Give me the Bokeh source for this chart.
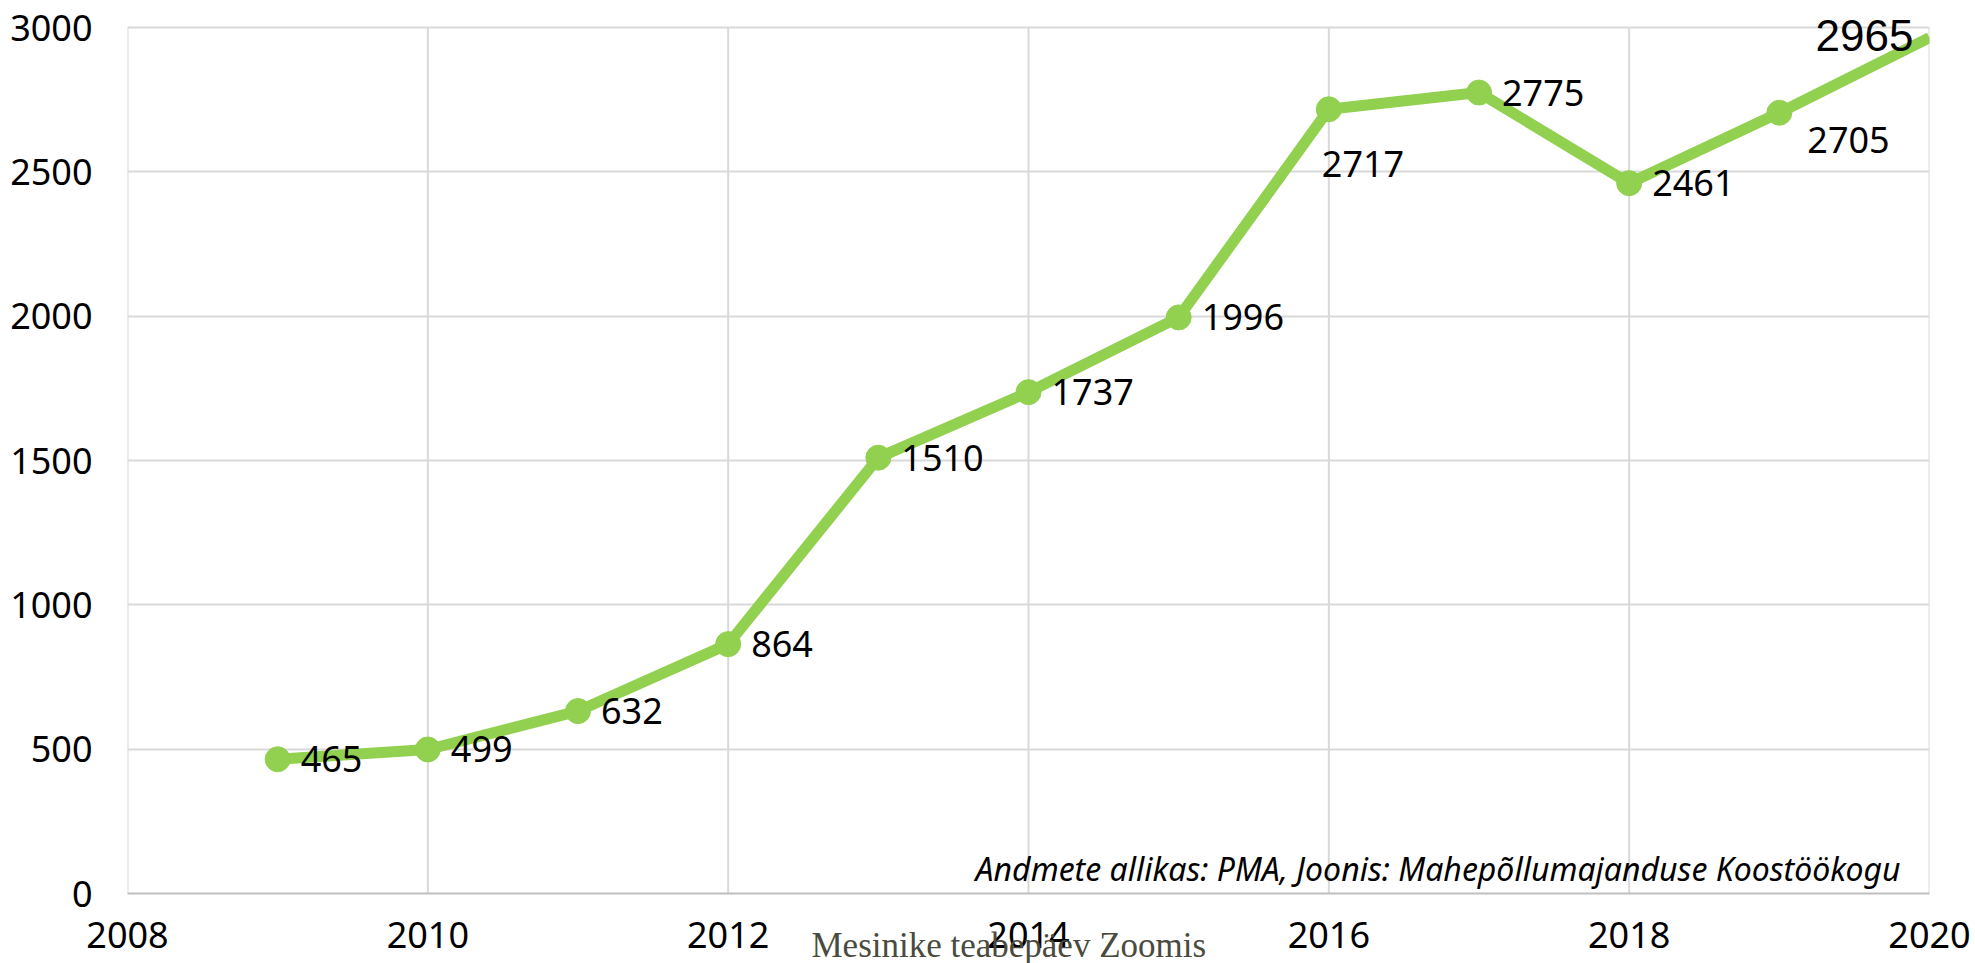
from bokeh.plotting import figure
from bokeh.models import ColumnDataSource, LabelSet, Label, Range1d, FixedTicker, Title
from bokeh.core.properties import value
from bokeh.embed import file_html
from bokeh.resources import INLINE

# ---- data ----
years = [2009, 2010, 2011, 2012, 2013, 2014, 2015, 2016, 2017, 2018, 2019, 2020]
values = [465, 499, 632, 864, 1510, 1737, 1996, 2717, 2775, 2461, 2705, 2965]
x_tick_values = [2008, 2010, 2012, 2014, 2016, 2018, 2020]
y_tick_values = [0, 500, 1000, 1500, 2000, 2500, 3000]
source_text = "Andmete allikas: PMA, Joonis: Mahepõllumajanduse Koostöökogu"
footer_text = "Mesinike teabepäev Zoomis"

GREEN = "#92D050"
GRID = "#d9d9d9"
FONT = "Noto Sans"

p = figure(frame_width=1802, frame_height=876,
           min_border_left=127, min_border_right=46, min_border_top=17, min_border_bottom=70,
           x_range=Range1d(2008, 2020), y_range=Range1d(0, 3035),
           output_backend="svg", toolbar_location=None,
           background_fill_color="white", border_fill_color="white")
p.outline_line_color = None

p.xaxis.ticker = FixedTicker(ticks=x_tick_values)
p.yaxis.ticker = FixedTicker(ticks=y_tick_values)
p.xgrid.grid_line_color = None
p.ygrid.grid_line_color = GRID
p.ygrid.grid_line_width = 2

for ax in (p.xaxis[0], p.yaxis[0]):
    ax.major_tick_out = 0
    ax.major_tick_in = 0
    ax.minor_tick_out = 0
    ax.minor_tick_in = 0
    ax.major_label_text_font = FONT
    ax.major_label_text_font_size = "36px"
    ax.major_label_text_color = "black"
p.xaxis.axis_line_color = "#bfbfbf"
p.xaxis.axis_line_width = 2
p.xaxis.major_label_standoff = 28
p.yaxis.axis_line_color = None
p.yaxis.major_label_standoff = 35

# footer as a title below the axis, pulled up into the tick label row
p.add_layout(Title(text=footer_text, align="left", offset=684, standoff=-50,
                   vertical_align="top",
                   text_font="Liberation Serif", text_font_style="normal",
                   text_font_size="35px", text_color="#4A4A3E"), "below")

# vertical gridlines, only up to the top tick
p.segment(x0=x_tick_values, y0=[y_tick_values[0]] * len(x_tick_values),
          x1=x_tick_values, y1=[y_tick_values[-1]] * len(x_tick_values),
          line_color=GRID, line_width=2)

# series
p.line(years, values, line_color=GREEN, line_width=11, line_join="round")
p.scatter(years[:-1], values[:-1], size=25, fill_color=GREEN, line_color=GREEN)

# data labels
xo = [23] * (len(years) - 1)
yo = [0] * (len(years) - 1)
xo[years.index(2016)] = -7
yo[years.index(2016)] = -55
xo[years.index(2019)] = 28
yo[years.index(2019)] = -27
lab_src = ColumnDataSource(dict(x=years[:-1], y=values[:-1],
                                t=[str(v) for v in values[:-1]], xo=xo, yo=yo))
p.add_layout(LabelSet(x="x", y="y", text="t", source=lab_src, x_offset="xo", y_offset="yo",
                      text_align="left", text_baseline="middle",
                      text_font=value(FONT), text_font_size="36px", text_color="black"))
p.add_layout(Label(x=years[-1], y=values[-1], text=str(values[-1]), x_offset=-16, y_offset=2,
                   text_align="right", text_baseline="middle",
                   text_font="Liberation Sans", text_font_size="44px", text_color="black"))

# source note
p.add_layout(Label(x=2020, y=0, text=source_text, x_offset=-29, y_offset=25,
                   text_align="right", text_baseline="alphabetic",
                   text_font=FONT, text_font_style="italic", text_font_size="32px",
                   text_color="black"))

open("out.html", "w").write(file_html(p, INLINE))
